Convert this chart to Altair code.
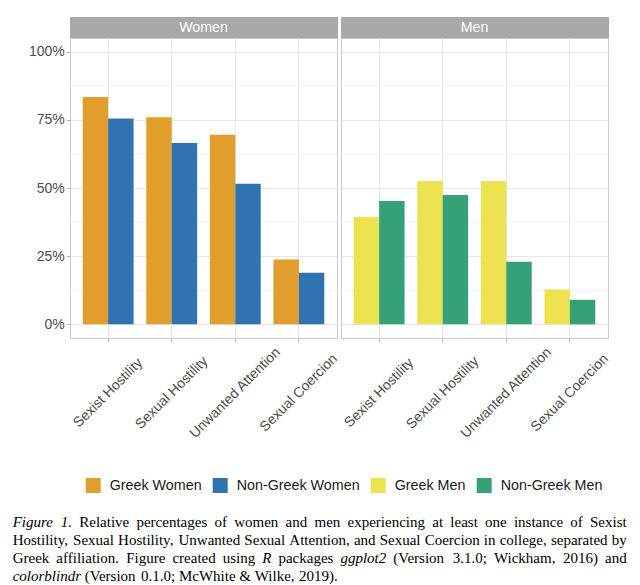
import altair as alt
import pandas as pd

# ---------------- data ----------------
categories = ["Sexist Hostility", "Sexual Hostility", "Unwanted Attention", "Sexual Coercion"]
groups = ["Greek Women", "Non-Greek Women", "Greek Men", "Non-Greek Men"]
affiliations = ["Greek", "Non-Greek"]
colors = ["#E29E2C", "#2F74B0", "#EDE24F", "#36A077"]

greek_women = [0.834, 0.759, 0.695, 0.238]
nongreek_women = [0.755, 0.665, 0.516, 0.189]
greek_men = [0.394, 0.526, 0.526, 0.128]
nongreek_men = [0.452, 0.474, 0.230, 0.090]

y_ticks = [0, 0.25, 0.5, 0.75, 1.0]
y_minor = [0.125, 0.375, 0.625, 0.875]

caption_lines = [
    "_Figure_ _1._ Relative percentages of women and men experiencing at least one instance of Sexist",
    "Hostility, Sexual Hostility, Unwanted Sexual Attention, and Sexual Coercion in college, separated by",
    "Greek affiliation. Figure created using _R_ packages _ggplot2_ (Version 3.1.0; Wickham, 2016) and",
    "_colorblindr_ (Version 0.1.0; McWhite & Wilke, 2019).",
]

rows = []
for sex, series in [("Women", [("Greek Women", "Greek", greek_women),
                               ("Non-Greek Women", "Non-Greek", nongreek_women)]),
                    ("Men", [("Greek Men", "Greek", greek_men),
                             ("Non-Greek Men", "Non-Greek", nongreek_men)])]:
    for g, aff, vals in series:
        for c, v in zip(categories, vals):
            rows.append({"sex": sex, "group": g, "aff": aff, "category": c, "value": v})
df = pd.DataFrame(rows)

# ---------------- styling ----------------
SANS = "Liberation Sans"
SERIF = "Liberation Serif"
PANEL_W = 267
PANEL_H = 300
STRIP_H = 21
yscale = alt.Scale(domain=[-0.05, 1.05], nice=False, zero=False)

legend = alt.Legend(
    title=None, orient="none", legendX=15.7, legendY=461, direction="horizontal",
    symbolType="square", symbolSize=225, symbolStrokeWidth=0, symbolOpacity=1,
    labelFont=SANS, labelFontSize=14.3, labelColor="#1A1A1A", labelOffset=9,
    columnPadding=11, padding=0,
)


def panel(sex, show_y):
    d = df[df["sex"] == sex]
    yaxis = alt.Axis(
        title=None, values=y_ticks, format=".0%", grid=True, gridColor="#E6E6E6",
        domain=False, labels=show_y, ticks=show_y, tickSize=3.7, tickColor="#B3B3B3",
        labelFont=SANS, labelFontSize=14, labelColor="#4D4D4D", labelPadding=2,
    )
    minor = alt.Chart(pd.DataFrame({"v": y_minor})).mark_rule(
        color="#F3F3F3", strokeWidth=1
    ).encode(y=alt.Y("v:Q", scale=yscale, axis=yaxis))

    xaxis = alt.Axis(
        title=None, labelAngle=315, labelAlign="center", labelBaseline="middle",
        labelPadding=51, tickSize=3.5, tickColor="#B3B3B3", domain=False, grid=True,
        gridColor="#E6E6E6", bandPosition=0.5, labelFont=SANS, labelFontSize=14,
        labelColor="#4D4D4D", labelOverlap=False,
    )
    bars = alt.Chart(d).mark_bar().encode(
        x=alt.X("category:N", sort=categories, axis=xaxis,
                scale=alt.Scale(paddingInner=0.2, paddingOuter=0.2)),
        xOffset=alt.XOffset("aff:N", sort=affiliations,
                            scale=alt.Scale(domain=affiliations, paddingInner=0, paddingOuter=0)),
        y=alt.Y("value:Q", scale=yscale, axis=yaxis, stack=None),
        color=alt.Color("group:N", scale=alt.Scale(domain=groups, range=colors), legend=legend),
    )
    plot = alt.layer(minor, bars).properties(width=PANEL_W, height=PANEL_H)

    strip = alt.Chart(pd.DataFrame({"panel": [sex]})).mark_text(
        color="white", font=SANS, fontSize=14.2
    ).encode(text="panel:N").properties(
        width=PANEL_W, height=STRIP_H,
        view=alt.ViewBackground(fill="#A8A8A8", stroke="#A8A8A8"),
    )
    return alt.vconcat(strip, plot, spacing=0, bounds="flush")


# ---------------- caption (justified, mixed italic) ----------------
CAP_SIZE = 15
REG = {" ": 250, ".": 250, ",": 250, ";": 278, "(": 333, ")": 333, "&": 778,
       "A": 722, "C": 667, "F": 556, "G": 722, "H": 722, "M": 889, "R": 667,
       "S": 556, "U": 722, "V": 722, "W": 944,
       "a": 444, "b": 500, "c": 444, "d": 500, "e": 444, "f": 333, "g": 500,
       "h": 500, "i": 278, "j": 278, "k": 500, "l": 278, "m": 778, "n": 500,
       "o": 500, "p": 500, "q": 500, "r": 333, "s": 389, "t": 278, "u": 500,
       "v": 500, "w": 722, "x": 500, "y": 500, "z": 444}
ITA = {" ": 250, ".": 250, "F": 611, "R": 611,
       "a": 500, "b": 500, "c": 444, "d": 500, "e": 444, "f": 278, "g": 500,
       "h": 500, "i": 278, "j": 278, "k": 444, "l": 278, "m": 722, "n": 500,
       "o": 500, "p": 500, "q": 500, "r": 389, "s": 389, "t": 278, "u": 500,
       "v": 444, "w": 667, "x": 444, "y": 444, "z": 389}


def tw(word, ital):
    table = ITA if ital else REG
    return sum(table.get(ch, 500) for ch in word) * CAP_SIZE / 1000.0


CAP_X0 = 12 - 69.3
CAP_W = 614
CAP_Y0 = 38.3
CAP_LH = 17.9
cap_rows = []
for li, line in enumerate(caption_lines):
    words = []
    for w in line.split(" "):
        ital = w.startswith("_") and w.endswith("_")
        words.append((w.strip("_"), ital))
    widths = [tw(w, it) for w, it in words]
    if li < len(caption_lines) - 1:
        gap = (CAP_W - sum(widths)) / (len(words) - 1)
    else:
        gap = REG[" "] * CAP_SIZE / 1000.0
    x = CAP_X0
    for (w, it), wd in zip(words, widths):
        cap_rows.append({"x": x, "y": CAP_Y0 + li * CAP_LH, "t": w, "ital": it})
        x += wd + gap
cap_df = pd.DataFrame(cap_rows)

cap_base = alt.Chart(cap_df).encode(
    x=alt.X("x:Q", scale=None, axis=None),
    y=alt.Y("y:Q", scale=None, axis=None),
    text="t:N",
)
cap_reg = cap_base.transform_filter("!datum.ital").mark_text(
    font=SERIF, fontSize=CAP_SIZE, align="left", baseline="alphabetic", color="black")
cap_it = cap_base.transform_filter("datum.ital").mark_text(
    font=SERIF, fontSize=CAP_SIZE, fontStyle="italic", align="left", baseline="alphabetic",
    color="black")
caption = alt.layer(cap_reg, cap_it).properties(
    width=2 * PANEL_W, height=100,
    view=alt.ViewBackground(stroke="transparent", fill="transparent"),
)

panels = alt.hconcat(panel("Women", True), panel("Men", False), spacing=-1)

chart = alt.vconcat(panels, caption, spacing=46).properties(
    padding={"left": 4, "top": 8, "right": 0, "bottom": 0},
    background="white",
).configure_view(stroke="#CACACA", strokeWidth=1).resolve_scale(color="shared")

chart.save("out.html", embed_options={"renderer": "svg", "actions": False})
